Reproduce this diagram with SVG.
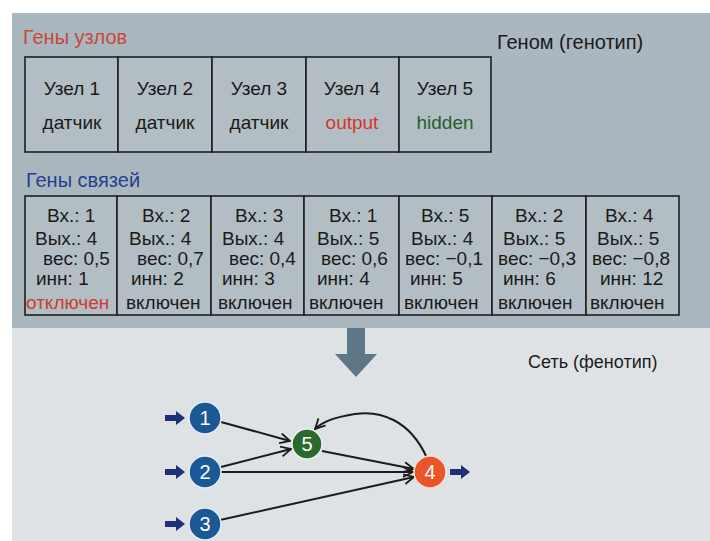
<svg xmlns="http://www.w3.org/2000/svg" width="710" height="541" viewBox="0 0 710 541">
<defs>
<style>
text{font-family:"Liberation Sans",Arial,sans-serif;}
.lbl{font-size:19px;fill:#1a1a1a;}
.cell{fill:#b2bec4;stroke:#1e1e1e;stroke-width:1.6;}
.ctr{text-anchor:middle;}
.edge{fill:none;stroke:#1c1c1c;stroke-width:2;}
.num{font-size:20px;fill:#ffffff;text-anchor:middle;}
.inarr{fill:#1f2f78;}
</style>
<marker id="ah" viewBox="0 0 12 12" refX="11" refY="6" markerWidth="12" markerHeight="12" markerUnits="userSpaceOnUse" orient="auto">
<path d="M1,1 L11,6 L1,11" fill="none" stroke="#1c1c1c" stroke-width="1.8"/>
</marker>
</defs>
<rect x="0" y="0" width="710" height="541" fill="#ffffff"/>
<rect x="12" y="13" width="698" height="315" fill="#aab7be"/>
<rect x="12" y="328" width="698" height="213" fill="#dfe2e5"/>

<text x="23" y="44" style="font-size:20px;fill:#c8473a">Гены узлов</text>
<text x="497" y="49" class="lbl" style="font-size:20px">Геном (генотип)</text>

<g id="node-genes">
<rect class="cell" x="25" y="57" width="93" height="95"/>
<rect class="cell" x="118" y="57" width="94" height="95"/>
<rect class="cell" x="212" y="57" width="94" height="95"/>
<rect class="cell" x="306" y="57" width="93" height="95"/>
<rect class="cell" x="399" y="57" width="92" height="95"/>
<text class="lbl ctr" x="72" y="95">Узел 1</text>
<text class="lbl ctr" x="72" y="129">датчик</text>
<text class="lbl ctr" x="165" y="95">Узел 2</text>
<text class="lbl ctr" x="165" y="129">датчик</text>
<text class="lbl ctr" x="259" y="95">Узел 3</text>
<text class="lbl ctr" x="259" y="129">датчик</text>
<text class="lbl ctr" x="352" y="95">Узел 4</text>
<text class="lbl ctr" x="352" y="129" style="fill:#d9332a">output</text>
<text class="lbl ctr" x="445" y="95">Узел 5</text>
<text class="lbl ctr" x="445" y="129" style="fill:#23602a">hidden</text>
</g>

<text x="26" y="187" style="font-size:20px;fill:#283f8f">Гены связей</text>

<g id="connection-genes">
<rect class="cell" x="25" y="196" width="92" height="119"/>
<rect class="cell" x="117" y="196" width="94" height="119"/>
<rect class="cell" x="211" y="196" width="93" height="119"/>
<rect class="cell" x="304" y="196" width="95" height="119"/>
<rect class="cell" x="399" y="196" width="93" height="119"/>
<rect class="cell" x="492" y="196" width="94" height="119"/>
<rect class="cell" x="586" y="196" width="93" height="119"/>
<g class="lbl">
<text x="47" y="222">Вх.: 1</text><text x="35" y="245">Вых.: 4</text><text x="43" y="265">вес: 0,5</text><text x="36" y="285">инн: 1</text><text x="26" y="309" style="fill:#d13a30">отключен</text>
<text x="142" y="222">Вх.: 2</text><text x="129" y="245">Вых.: 4</text><text x="137" y="265">вес: 0,7</text><text x="131" y="285">инн: 2</text><text x="126" y="309">включен</text>
<text x="235" y="222">Вх.: 3</text><text x="222" y="245">Вых.: 4</text><text x="229" y="265">вес: 0,4</text><text x="222" y="285">инн: 3</text><text x="218" y="309">включен</text>
<text x="329" y="222">Вх.: 1</text><text x="317" y="245">Вых.: 5</text><text x="321" y="265">вес: 0,6</text><text x="317" y="285">инн: 4</text><text x="309" y="309">включен</text>
<text x="421" y="222">Вх.: 5</text><text x="411" y="245">Вых.: 4</text><text x="405" y="265">вес: −0,1</text><text x="410" y="285">инн: 5</text><text x="404" y="309">включен</text>
<text x="515" y="222">Вх.: 2</text><text x="503" y="245">Вых.: 5</text><text x="498" y="265">вес: −0,3</text><text x="503" y="285">инн: 6</text><text x="498" y="309">включен</text>
<text x="605" y="222">Вх.: 4</text><text x="597" y="245">Вых.: 5</text><text x="592" y="265">вес: −0,8</text><text x="600" y="285">инн: 12</text><text x="590" y="309">включен</text>
</g>
</g>

<g id="big-arrow">
<polygon points="347,328 365,328 365,354 377,354 356,377 335,354 347,354" fill="#5d7786"/>
</g>
<text x="528" y="368" class="lbl" style="font-size:18px">Сеть (фенотип)</text>

<g id="connectors">
<line class="edge" x1="221" y1="422" x2="290" y2="441" marker-end="url(#ah)"/>
<line class="edge" x1="221" y1="467" x2="291" y2="449" marker-end="url(#ah)"/>
<line class="edge" x1="221" y1="472" x2="413" y2="472" marker-end="url(#ah)"/>
<line class="edge" x1="220" y1="520" x2="414" y2="477" marker-end="url(#ah)"/>
<line class="edge" x1="322" y1="451" x2="414" y2="469" marker-end="url(#ah)"/>
<path class="edge" d="M427,458 C410,420 380,410 355,414 C335,417 322,422 315,429" marker-end="url(#ah)"/>
<polygon class="inarr" points="165,415 176,415 176,411 185,418 176,425 176,421 165,421"/>
<polygon class="inarr" points="165,469 176,469 176,465 185,472 176,479 176,475 165,475"/>
<polygon class="inarr" points="165,521 176,521 176,517 185,524 176,531 176,527 165,527"/>
<polygon class="inarr" points="450,469 461,469 461,465 470,472 461,479 461,475 450,475"/>
</g>

<g id="n1"><circle cx="205" cy="418" r="16" fill="#1b5896" stroke="#e8eef3" stroke-width="1.5"/><text class="num" x="205" y="425">1</text></g>
<g id="n2"><circle cx="205" cy="472" r="16" fill="#1b5896" stroke="#e8eef3" stroke-width="1.5"/><text class="num" x="205" y="479">2</text></g>
<g id="n3"><circle cx="205" cy="524" r="16" fill="#1b5896" stroke="#e8eef3" stroke-width="1.5"/><text class="num" x="205" y="531">3</text></g>
<g id="n5"><circle cx="307" cy="444" r="15" fill="#2a6a2c" stroke="#e8eef3" stroke-width="1.5"/><text class="num" x="307" y="451">5</text></g>
<g id="n4"><circle cx="430" cy="472" r="16" fill="#ea5428" stroke="#f4e4dc" stroke-width="1.5"/><text class="num" x="430" y="479">4</text></g>
</svg>
